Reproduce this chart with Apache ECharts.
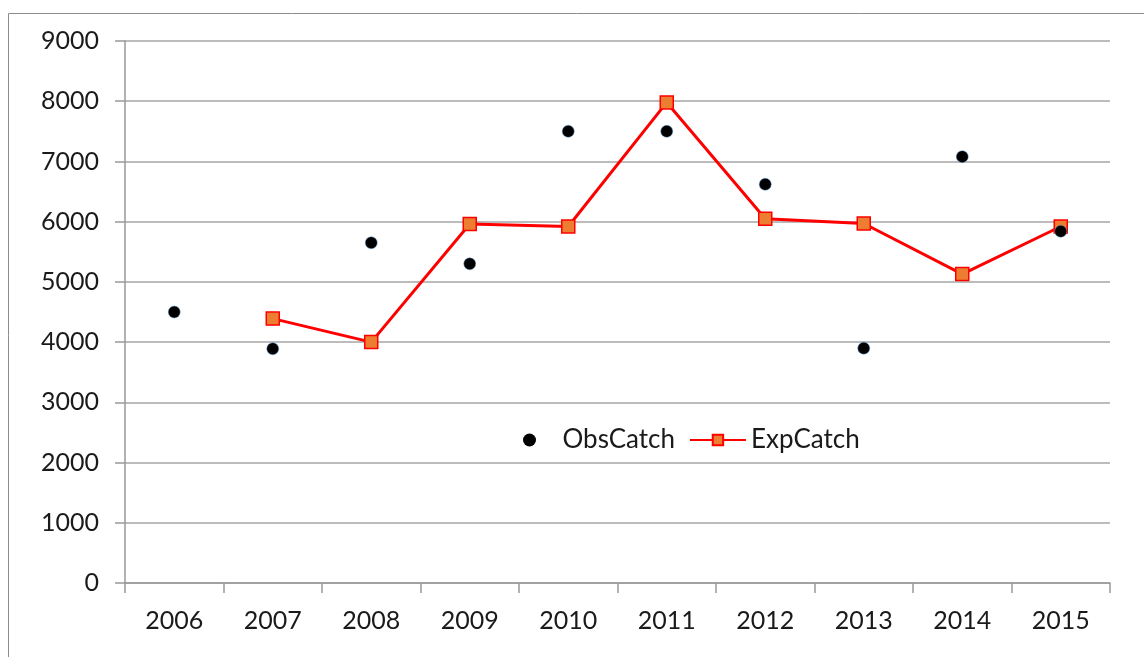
<!DOCTYPE html>
<html>
<head>
<meta charset="utf-8">
<script src="https://cdn.jsdelivr.net/npm/echarts@6/dist/echarts.min.js"></script>
<style>
  html, body { margin: 0; padding: 0; background: #fff; }
  #main { width: 1144px; height: 657px; }
</style>
</head>
<body>
<div id="main"></div>
<script>
// data
var years = ['2006', '2007', '2008', '2009', '2010', '2011', '2012', '2013', '2014', '2015'];
var obsCatch = [4500, 3890, 5650, 5300, 7500, 7500, 6620, 3900, 7080, 5840];
var expCatch = [null, 4390, 4000, 5960, 5920, 7980, 6050, 5970, 5130, 5920];
var yTicks = { min: 0, max: 9000, step: 1000 };

var myChart = echarts.init(document.getElementById('main'));
var lblFont = 'Lato, "Open Sans", sans-serif';
var txtColor = '#1a1a1a';
var option = {
    backgroundColor: '#fff',
    animation: false,
    // outer frame (cut off at right and bottom in the reference)
    graphic: [{
        type: 'rect',
        shape: { x: 8.5, y: 13.5, width: 1300, height: 900 },
        style: { fill: 'none', stroke: '#8c8c8c', lineWidth: 1 },
        silent: true
    }],
    grid: {
        left: 125,
        right: 34,
        top: 41,
        bottom: 74
    },
    legend: {
        left: 518,
        top: 422,
        itemGap: 14,
        textStyle: { fontFamily: lblFont, fontSize: 26, color: txtColor },
        data: [
            { name: 'ObsCatch', icon: 'circle', itemStyle: { color: '#000', borderWidth: 0 } },
            { name: 'ExpCatch' }
        ],
        itemWidth: 56,
        itemHeight: 13
    },
    xAxis: {
        type: 'category',
        data: years,
        boundaryGap: true,
        axisLine: { lineStyle: { color: '#999', width: 1.5 } },
        axisTick: { show: true, length: 10, alignWithLabel: false, lineStyle: { color: '#999', width: 1.5 } },
        axisLabel: { margin: 25, fontFamily: lblFont, fontSize: 25, color: txtColor }
    },
    yAxis: {
        type: 'value',
        min: yTicks.min,
        max: yTicks.max,
        interval: yTicks.step,
        axisLine: { show: true, lineStyle: { color: '#999', width: 1.5 } },
        axisTick: { show: true, length: 10, lineStyle: { color: '#999', width: 1.5 } },
        axisLabel: {
            margin: 26, fontFamily: lblFont, fontSize: 25, color: txtColor,
            formatter: function (v) { return String(v); }
        },
        splitLine: { lineStyle: { color: '#a6a6a6', width: 1.5 } }
    },
    series: [
        {
            name: 'ExpCatch',
            type: 'line',
            data: expCatch,
            connectNulls: false,
            symbol: 'rect',
            symbolSize: 13,
            lineStyle: { color: '#ff0000', width: 3 },
            itemStyle: { color: '#ed7d31', borderColor: '#ff0000', borderWidth: 1.5 },
            z: 2
        },
        {
            name: 'ObsCatch',
            type: 'scatter',
            data: obsCatch,
            symbol: 'circle',
            symbolSize: 12,
            itemStyle: { color: '#000', borderColor: 'rgba(91,155,213,0.45)', borderWidth: 1, opacity: 1 },
            z: 3
        }
    ]
};
myChart.setOption(option);
</script>
</body>
</html>
